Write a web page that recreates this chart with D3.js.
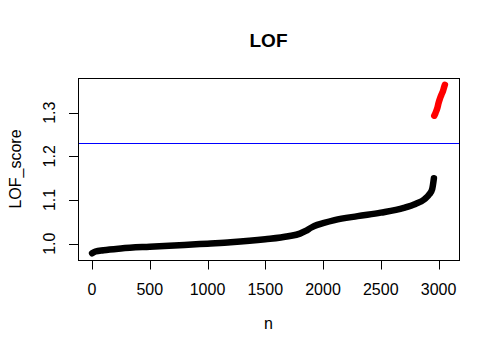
<!DOCTYPE html>
<html>
<head>
<meta charset="utf-8">
<script src="https://cdn.jsdelivr.net/npm/d3@7"></script>
<style>
  body { margin: 0; background: #fff; }
  text { font-family: "Liberation Sans", Arial, sans-serif; fill: #000; }
</style>
</head>
<body>
<svg id="chart" width="500" height="358"></svg>
<script>
// sorted LOF scores (index n -> score)
const normN = [1, 30, 100, 250, 500, 800, 1000, 1200, 1500, 1700, 1800, 1850, 1900, 1950, 2000, 2100, 2300, 2500, 2700, 2800, 2880, 2920, 2945, 2960]
const normScore = [0.978, 0.982, 0.985, 0.989, 0.993, 0.997, 1.000, 1.003, 1.010, 1.017, 1.023, 1.029, 1.037, 1.043, 1.047, 1.054, 1.063, 1.071, 1.082, 1.091, 1.102, 1.113, 1.125, 1.150]
// outliers above the cut-off
const outN = [2963, 2975, 2990, 3000, 3012, 3025, 3040, 3050, 3055]
const outScore = [1.293, 1.300, 1.311, 1.322, 1.332, 1.341, 1.351, 1.360, 1.364]
const cutoff = 1.23

const xTicks = [0, 500, 1000, 1500, 2000, 2500, 3000]
const yTicks = [1.0, 1.1, 1.2, 1.3]

const plotL = 78, plotR = 459, plotT = 78, plotB = 260
const svg = d3.select('#chart')

// R style 4% padding on the data range
function pad (ext) {
  const d = (ext[1] - ext[0]) * 0.04
  return [ext[0] - d, ext[1] + d]
}
const x = d3.scaleLinear()
  .domain(pad(d3.extent(normN.concat(outN))))
  .range([plotL, plotR])
const y = d3.scaleLinear()
  .domain(pad(d3.extent(normScore.concat(outScore))))
  .range([plotB, plotT])

const line = d3.line().x(d => x(d[0])).y(d => y(d[1])).curve(d3.curveMonotoneX)

svg.append('path')
  .datum(d3.zip(normN, normScore))
  .attr('d', line)
  .attr('fill', 'none')
  .attr('stroke', '#000')
  .attr('stroke-width', 6.5)
  .attr('stroke-linecap', 'round')

svg.append('path')
  .datum(d3.zip(outN, outScore))
  .attr('d', line)
  .attr('fill', 'none')
  .attr('stroke', '#ff0000')
  .attr('stroke-width', 6.5)
  .attr('stroke-linecap', 'round')

// cut-off line
svg.append('line')
  .attr('x1', plotL).attr('x2', plotR)
  .attr('y1', Math.round(y(cutoff)) + 0.5).attr('y2', Math.round(y(cutoff)) + 0.5)
  .attr('stroke', '#0000ff')
  .attr('stroke-width', 1)

// box
svg.append('rect')
  .attr('x', plotL + 0.5).attr('y', plotT + 0.5)
  .attr('width', plotR - plotL).attr('height', plotB - plotT)
  .attr('fill', 'none')
  .attr('stroke', '#000')

// x axis
const xg = svg.append('g')
xg.selectAll('line').data(xTicks).join('line')
  .attr('x1', d => Math.round(x(d)) + 0.5).attr('x2', d => Math.round(x(d)) + 0.5)
  .attr('y1', plotB).attr('y2', plotB + 9.5)
  .attr('stroke', '#000')
xg.selectAll('text').data(xTicks).join('text')
  .attr('x', d => x(d)).attr('y', 295)
  .attr('text-anchor', 'middle')
  .style('font-size', '16px')
  .text(d => d)

// y axis
const yg = svg.append('g')
yg.selectAll('line').data(yTicks).join('line')
  .attr('x1', plotL - 9).attr('x2', plotL + 0.5)
  .attr('y1', d => Math.round(y(d)) + 0.5).attr('y2', d => Math.round(y(d)) + 0.5)
  .attr('stroke', '#000')
yg.selectAll('text').data(yTicks).join('text')
  .attr('transform', d => 'translate(55,' + y(d) + ') rotate(-90)')
  .attr('text-anchor', 'middle')
  .style('font-size', '16px')
  .text(d => d.toFixed(1))

// labels
svg.append('text')
  .attr('x', (plotL + plotR) / 2).attr('y', 47)
  .attr('text-anchor', 'middle')
  .style('font-size', '19px').style('font-weight', 'bold')
  .text('LOF')
svg.append('text')
  .attr('x', (plotL + plotR) / 2).attr('y', 329)
  .attr('text-anchor', 'middle')
  .style('font-size', '16px')
  .text('n')
svg.append('text')
  .attr('transform', 'translate(21,' + (plotT + plotB) / 2 + ') rotate(-90)')
  .attr('text-anchor', 'middle')
  .style('font-size', '16px')
  .text('LOF_score')
</script>
</body>
</html>
